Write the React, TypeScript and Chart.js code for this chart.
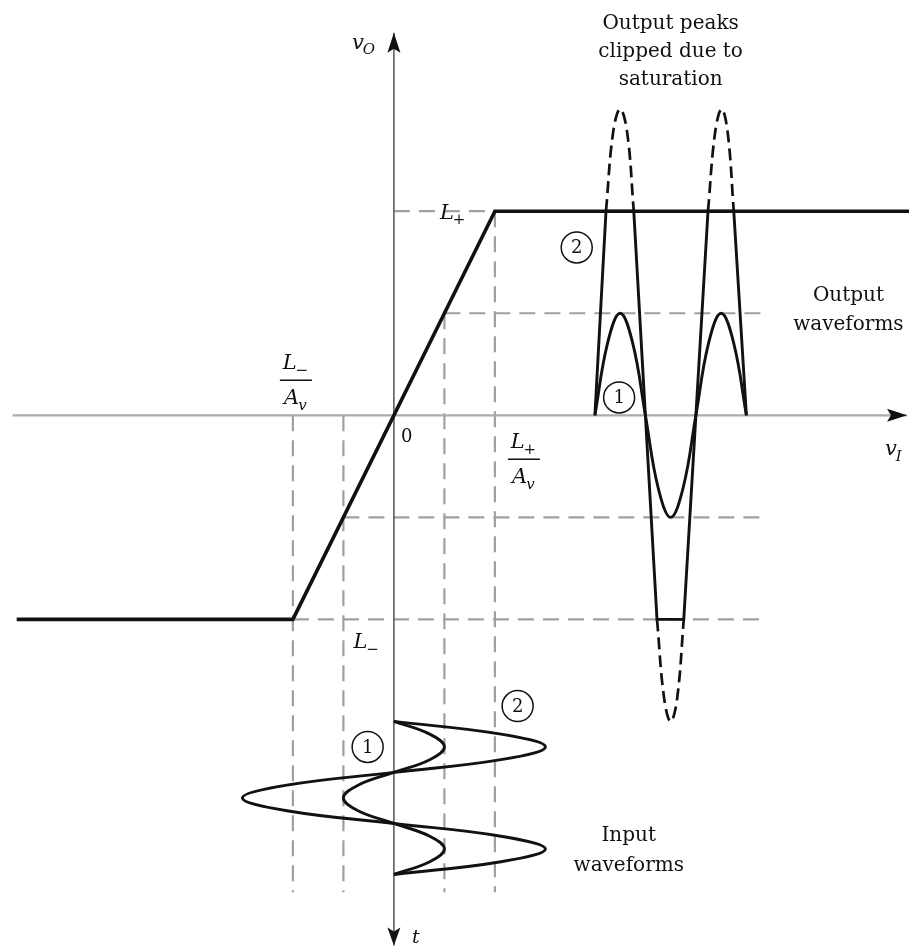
import { useEffect, useRef } from "react";
import { Chart, registerables } from "chart.js";

Chart.register(...registerables);

// ---- scale extents (v_I horizontally, v_O vertically, drawing units) ----
const X_MIN = -7.8;
const X_MAX = 10.2;
const Y_MIN = -10.5;
const Y_MAX = 8.14;

// ---- transfer characteristic (L- = -4, L+ = 4, A_v = 2) ----
const transferVI = [-7.47, -2, 2, 10.2];
const transferVO = [-4, -4, 4, 4];

// ---- axes ----
const axisVIRange = [-7.55, 10.16];
const axisVORange = [-10.39, 7.5];

// ---- horizontal dashed guides ----
const guideLevels = [4, 2, -2, -4];
const guideFrom = [0, 1, -1, -2];
const guideTo = [2, 7.35, 7.35, 7.35];

// ---- vertical dashed guides ----
const dropVI = [-2, -1, 1, 2];
const dropFrom = [0, 0, 2, 4];
const dropTo = [-9.35, -9.35, -9.35, -9.35];

// ---- input waveforms (time runs downward, starting at v_O = -6) ----
const INPUT_T0 = -6;
const inputTime = [0, 0.25, 0.5, 0.75, 1, 1.25, 1.5, 1.75, 2, 2.25, 2.5, 2.75, 3];
const input1 = [0, 0.71, 1, 0.71, 0, -0.71, -1, -0.71, 0, 0.71, 1, 0.71, 0];
const input2 = [0, 2.12, 3, 2.12, 0, -2.12, -3, -2.12, 0, 2.12, 3, 2.12, 0];

// ---- output waveforms (time runs rightward, starting at v_I = 3.98) ----
const OUTPUT_T0 = 3.98;
const outputTime = [0, 0.25, 0.5, 0.75, 1, 1.25, 1.5, 1.75, 2, 2.25, 2.5, 2.75, 3];
const output1 = [0, 1.41, 2, 1.41, 0, -1.41, -2, -1.41, 0, 1.41, 2, 1.41, 0];
const output2ClipTime = [0, 0.22, 0.77, 1, 1.23, 1.76, 2, 2.24, 2.75, 3];
const output2Clip = [0, 4, 4, 0, -4, -4, 0, 4, 4, 0];
const lostTime = [0.22, 0.36, 0.5, 0.64, 0.77, null, 1.23, 1.37, 1.5, 1.63, 1.76, null, 2.24, 2.38, 2.51, 2.63, 2.75];
const lostPeak = [4, 5.54, 6, 5.54, 4, null, -4, -5.54, -6, -5.54, -4, null, 4, 5.54, 6, 5.54, 4];

const INK = "#111111";
const GUIDE = "#a0a0a0";
const SERIF = '"DejaVu Serif", "Liberation Serif", serif';

function pts(xs: (number | null)[], ys: (number | null)[]) {
  return xs.map((x, i) => ({ x: x == null ? NaN : x, y: ys[i] }));
}

function arrow(ctx: CanvasRenderingContext2D, x: number, y: number, dx: number, dy: number, len = 20, half = 6.5) {
  const bx = x - dx * len;
  const by = y - dy * len;
  const nx = -dy;
  const ny = dx;
  ctx.beginPath();
  ctx.moveTo(x, y);
  ctx.lineTo(bx + nx * half, by + ny * half);
  ctx.lineTo(bx + dx * 4, by + dy * 4);
  ctx.lineTo(bx - nx * half, by - ny * half);
  ctx.closePath();
  ctx.fillStyle = INK;
  ctx.fill();
}

function sym(ctx: CanvasRenderingContext2D, main: string, sub: string, x: number, y: number, size = 21, subItalic = false, align: "left" | "center" = "left") {
  ctx.font = `italic ${size}px ${SERIF}`;
  const w1 = ctx.measureText(main).width;
  const subSize = Math.round(size * 0.72);
  ctx.font = `${subItalic ? "italic " : ""}${subSize}px ${SERIF}`;
  const w2 = ctx.measureText(sub).width;
  let left = x;
  if (align === "center") left = x - (w1 + w2) / 2;
  ctx.textAlign = "left";
  ctx.textBaseline = "alphabetic";
  ctx.font = `italic ${size}px ${SERIF}`;
  ctx.fillText(main, left, y);
  ctx.font = `${subItalic ? "italic " : ""}${subSize}px ${SERIF}`;
  ctx.fillText(sub, left + w1 - 1, y + size * 0.25);
}

function circled(ctx: CanvasRenderingContext2D, label: string, x: number, y: number) {
  ctx.beginPath();
  ctx.arc(x, y, 15.5, 0, Math.PI * 2);
  ctx.lineWidth = 1.5;
  ctx.strokeStyle = INK;
  ctx.stroke();
  ctx.font = `18px ${SERIF}`;
  ctx.textAlign = "center";
  ctx.textBaseline = "middle";
  ctx.fillStyle = INK;
  ctx.fillText(label, x, y + 1);
}

const annotations = {
  id: "annotations",
  afterDatasetsDraw(chart: any) {
    const ctx: CanvasRenderingContext2D = chart.ctx;
    const X = (v: number) => chart.scales.x.getPixelForValue(v);
    const Y = (v: number) => chart.scales.y.getPixelForValue(v);
    ctx.save();
    // arrow heads
    arrow(ctx, X(axisVIRange[1]), Y(0), 1, 0);
    arrow(ctx, X(0), Y(axisVORange[1]), 0, -1);
    arrow(ctx, X(0), Y(axisVORange[0]), 0, 1, 18);

    ctx.fillStyle = INK;
    // axis names
    sym(ctx, "v", "O", X(0) - 42, Y(7.5) + 16, 21, true);
    sym(ctx, "v", "I", X(axisVIRange[1]) - 22, Y(0) + 40, 21, true);
    ctx.font = `italic 19px ${SERIF}`;
    ctx.textAlign = "left";
    ctx.fillText("t", X(0) + 18, Y(axisVORange[0]) - 2);
    ctx.font = `18px ${SERIF}`;
    ctx.fillText("0", X(0) + 7, Y(0) + 27);

    // saturation levels
    sym(ctx, "L", "+", X(0) + 46, Y(4) + 8, 21);
    sym(ctx, "L", "\u2212", X(-1) + 10, Y(-4) + 29, 21);

    // fractions
    const frac = (cx: number, topBase: number, sub: string) => {
      sym(ctx, "L", sub, cx, topBase, 21, false, "center");
      ctx.beginPath();
      ctx.moveTo(cx - 16, topBase + 11);
      ctx.lineTo(cx + 16, topBase + 11);
      ctx.lineWidth = 1.6;
      ctx.strokeStyle = INK;
      ctx.stroke();
      sym(ctx, "A", "v", cx, topBase + 35, 21, true, "center");
    };
    frac(X(-2) + 3, Y(0) - 46, "\u2212");
    frac(X(2) + 29, Y(0) + 33, "+");

    // descriptive notes
    ctx.font = `20px ${SERIF}`;
    ctx.textAlign = "center";
    ctx.textBaseline = "alphabetic";
    const cx = X(OUTPUT_T0 + 1.5);
    ctx.fillText("Output peaks", cx, 29);
    ctx.fillText("clipped due to", cx, 57);
    ctx.fillText("saturation", cx, 85);
    ctx.fillText("Output", X(9.0), Y(2) - 12);
    ctx.fillText("waveforms", X(9.0), Y(2) + 17);
    ctx.fillText("Input", X(4.65), Y(-8.35));
    ctx.fillText("waveforms", X(4.65), Y(-8.35) + 30);

    // circled indices
    circled(ctx, "2", X(OUTPUT_T0 - 0.36), Y(3.29));
    circled(ctx, "1", X(OUTPUT_T0 + 0.48), Y(0.35));
    circled(ctx, "1", X(-0.52), Y(INPUT_T0 - 0.5));
    circled(ctx, "2", X(2.45), Y(INPUT_T0 + 0.3));
    ctx.restore();
  },
};

export default function App() {
  const ref = useRef<HTMLCanvasElement | null>(null);

  useEffect(() => {
    if (!ref.current) return;
    const guideSets = guideLevels.map((lv, i) => ({
      data: pts([guideFrom[i], guideTo[i]], [lv, lv]),
      borderColor: GUIDE,
      borderWidth: 2.2,
      borderDash: [16, 9],
      order: 10,
    }));
    const dropSets = dropVI.map((v, i) => ({
      data: pts([v, v], [dropFrom[i], dropTo[i]]),
      borderColor: GUIDE,
      borderWidth: 2.2,
      borderDash: [16, 9],
      order: 10,
    }));
    const chart = new Chart(ref.current, {
      type: "scatter",
      data: {
        datasets: [
          ...guideSets,
          ...dropSets,
          {
            data: pts(axisVIRange, [0, 0]),
            borderColor: "#ababab",
            borderWidth: 2.2,
            order: 9,
          },
          {
            data: pts([0, 0], axisVORange),
            borderColor: "#5e5e5e",
            borderWidth: 1.6,
            order: 9,
          },
          {
            data: pts(transferVI, transferVO),
            borderColor: INK,
            borderWidth: 3.6,
            order: 2,
          },
          {
            data: pts(input1, inputTime.map((t) => INPUT_T0 - t)),
            borderColor: INK,
            borderWidth: 2.9,
            tension: 0.4,
            order: 1,
          },
          {
            data: pts(input2, inputTime.map((t) => INPUT_T0 - t)),
            borderColor: INK,
            borderWidth: 2.9,
            tension: 0.4,
            order: 1,
          },
          {
            data: pts(outputTime.map((t) => OUTPUT_T0 + t), output1),
            borderColor: INK,
            borderWidth: 2.9,
            tension: 0.4,
            order: 1,
          },
          {
            data: pts(output2ClipTime.map((t) => OUTPUT_T0 + t), output2Clip),
            borderColor: INK,
            borderWidth: 2.9,
            order: 1,
          },
          {
            data: pts(lostTime.map((t) => (t == null ? null : OUTPUT_T0 + t)), lostPeak),
            borderColor: INK,
            borderWidth: 2.7,
            borderDash: [12, 6],
            tension: 0.4,
            order: 1,
          },
        ].map((d: any) => ({ showLine: true, pointRadius: 0, pointHoverRadius: 0, fill: false, ...d })),
      },
      options: {
        animation: false,
        responsive: false,
        maintainAspectRatio: false,
        events: [],
        layout: { padding: 0 },
        plugins: { legend: { display: false }, tooltip: { enabled: false } },
        scales: {
          x: { type: "linear", min: X_MIN, max: X_MAX, display: false },
          y: { type: "linear", min: Y_MIN, max: Y_MAX, display: false },
        },
      },
      plugins: [annotations],
    } as any);
    return () => chart.destroy();
  }, []);

  return (
    <div style={{ position: "absolute", left: 0, top: 0, width: 909, height: 951, background: "#fff" }}>
      <canvas ref={ref} width={909} height={951} style={{ display: "block" }} />
    </div>
  );
}
